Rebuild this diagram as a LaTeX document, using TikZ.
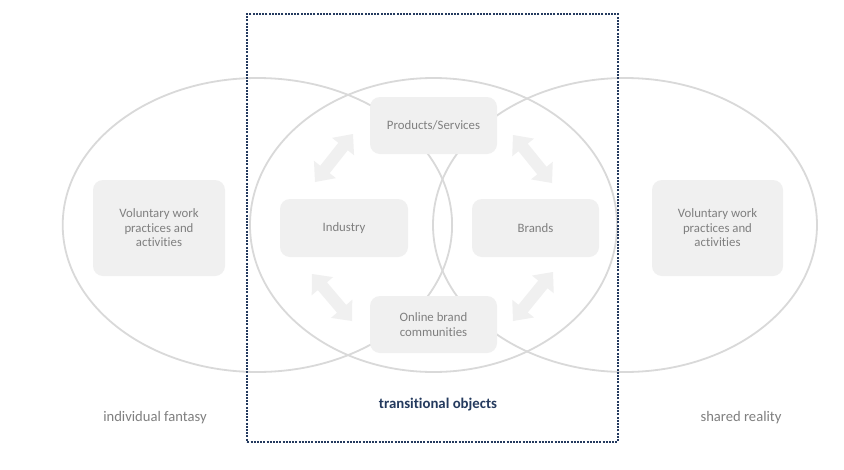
\documentclass[tikz,border=0pt]{standalone}
\usepackage{fontspec}
\setmainfont{Carlito}[Ligatures=NoCommon]
\usetikzlibrary{calc}
\definecolor{ringgrey}{HTML}{D9D9D9}
\definecolor{boxfill}{HTML}{F0F0F0}
\definecolor{txtgrey}{HTML}{7F7F7F}
\definecolor{navy}{HTML}{243A5E}
\tikzset{
  ring/.style={draw=ringgrey, line width=1.8pt},
  box/.style={fill=boxfill, rounded corners=10pt, inner sep=0pt, text=txtgrey, font=\fontsize{12.8}{14.5}\selectfont, align=center},
  lbl/.style={text=txtgrey, font=\fontsize{14.6}{17}\selectfont},
  blockarrow/.style={fill=boxfill, draw=none}
}
\newcommand{\dblblock}[2]{%
  \path[blockarrow]
    (#1) -- ($($(#1)!16pt!(#2)$)!14pt!90:(#2)$)
    -- ($($(#1)!16pt!(#2)$)!6pt!90:(#2)$)
    -- ($($(#2)!16pt!(#1)$)!6pt!-90:(#1)$)
    -- ($($(#2)!16pt!(#1)$)!14pt!-90:(#1)$)
    -- (#2)
    -- ($($(#2)!16pt!(#1)$)!14pt!90:(#1)$)
    -- ($($(#2)!16pt!(#1)$)!6pt!90:(#1)$)
    -- ($($(#1)!16pt!(#2)$)!6pt!-90:(#2)$)
    -- ($($(#1)!16pt!(#2)$)!14pt!-90:(#2)$)
    -- cycle;}
\begin{document}
\begin{tikzpicture}[x=1pt,y=-1pt]
\useasboundingbox[fill=white] (0,0) rectangle (844,469);
% ellipses
\draw[ring] (257.4,225) ellipse [x radius=194.7, y radius=147];
\draw[ring] (433.5,225) ellipse [x radius=183.5, y radius=147];
\draw[ring] (625,225) ellipse [x radius=192, y radius=147];
% dotted frame
\node[draw=navy, line width=2pt, dash pattern=on 2pt off 1.2pt, minimum width=370.4pt, minimum height=428pt, inner sep=0pt] (frame) at (432.5,227.8) {};
% boxes
\node[box, minimum width=127pt, minimum height=57pt] (prod) at (433.5,125.5) {Products/Services};
\node[box, minimum width=128pt, minimum height=58pt] (ind) at (344,228) {Industry};
\node[box, minimum width=127pt, minimum height=58pt] (brand) at (535.5,228) {Brands};
\node[box, minimum width=127pt, minimum height=57pt] (obc) at (433.5,324.5) {Online brand\\communities};
\node[box, minimum width=132pt, minimum height=96pt] (volL) at (159,228) {Voluntary work\\practices and\\activities};
\node[box, minimum width=131pt, minimum height=96pt] (volR) at (717.5,228) {Voluntary work\\practices and\\activities};
% block arrows
\coordinate (tla) at (315,182); \coordinate (tlb) at (353,134);
\coordinate (tra) at (513,135); \coordinate (trb) at (552,183);
\coordinate (bla) at (312,274); \coordinate (blb) at (352,321);
\coordinate (bra) at (513,321); \coordinate (brb) at (553,272);
\dblblock{tla}{tlb}
\dblblock{tra}{trb}
\dblblock{bla}{blb}
\dblblock{bra}{brb}
% labels
\node[lbl] (fant) at (155,418) {individual fantasy};
\node[text=navy, font=\fontsize{14.8}{17}\selectfont\bfseries] (trans) at (438,405) {transitional objects};
\node[lbl] (real) at (741,418) {shared reality};
\end{tikzpicture}
\end{document}
